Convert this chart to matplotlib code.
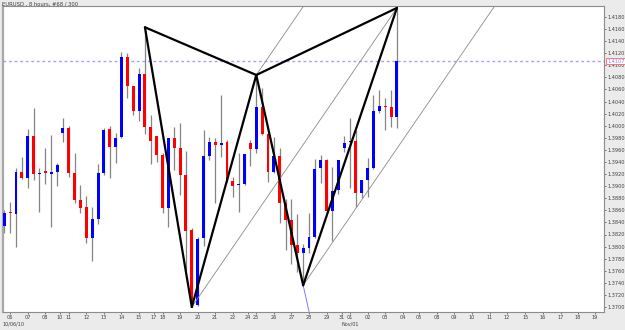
import matplotlib
matplotlib.use("Agg")
import matplotlib.pyplot as plt
import numpy as np

# ---------------- data (EURUSD, 8-hour bars) ----------------
opens = [1.3834, 1.3856, 1.3854, 1.3923, 1.3914, 1.3983, 1.3920, 1.3925, 1.3920, 1.3923,
         1.3988, 1.3996, 1.3922, 1.3877, 1.3865, 1.3814, 1.3846, 1.3922, 1.3995, 1.3965,
         1.3981, 1.4114, 1.4066, 1.4024, 1.4086, 1.3998, 1.3983, 1.3952, 1.3864, 1.3980,
         1.3963, 1.3919, 1.3827, 1.3703, 1.3814, 1.3950, 1.3973, 1.3968, 1.3973, 1.3909,
         1.3902, 1.3904, 1.3971, 1.3962, 1.4031, 1.3986, 1.3923, 1.3950, 1.3872, 1.3844,
         1.3803, 1.3789, 1.3798, 1.3816, 1.3930, 1.3943, 1.3859, 1.3894, 1.3963, 1.3973,
         1.3975, 1.3889, 1.3910, 1.3930, 1.4024, 1.4033, 1.4031, 1.4014]
highs = [1.3861, 1.3874, 1.3930, 1.3948, 1.3995, 1.4029, 1.3930, 1.3963, 1.3985, 1.3938,
         1.4013, 1.4000, 1.3955, 1.3902, 1.3884, 1.3865, 1.3937, 1.3996, 1.4000, 1.3988,
         1.4122, 1.4120, 1.4066, 1.4096, 1.4163, 1.4018, 1.3983, 1.3955, 1.3980, 1.3998,
         1.4005, 1.3958, 1.3830, 1.3816, 1.3993, 1.3981, 1.3980, 1.4051, 1.3976, 1.3915,
         1.3955, 1.3953, 1.3976, 1.4084, 1.4063, 1.3986, 1.3981, 1.3963, 1.3879, 1.3879,
         1.3854, 1.3804, 1.3856, 1.3945, 1.3952, 1.3945, 1.3932, 1.3943, 1.3983, 1.4013,
         1.3993, 1.3910, 1.3947, 1.4051, 1.4059, 1.4046, 1.4059, 1.4195]
lows = [1.3823, 1.3823, 1.3799, 1.3912, 1.3897, 1.3910, 1.3857, 1.3904, 1.3832, 1.3900,
        1.3973, 1.3915, 1.3872, 1.3856, 1.3806, 1.3776, 1.3837, 1.3918, 1.3914, 1.3938,
        1.3980, 1.4046, 1.4018, 1.4008, 1.3986, 1.3937, 1.3940, 1.3856, 1.3832, 1.3927,
        1.3885, 1.3761, 1.3700, 1.3701, 1.3801, 1.3943, 1.3872, 1.3948, 1.3907, 1.3882,
        1.3857, 1.3902, 1.3933, 1.3955, 1.3985, 1.3907, 1.3922, 1.3839, 1.3794, 1.3771,
        1.3758, 1.3736, 1.3789, 1.3815, 1.3905, 1.3858, 1.3809, 1.3887, 1.3957, 1.3897,
        1.3865, 1.3880, 1.3882, 1.3929, 1.4021, 1.3993, 1.3998, 1.3996]
closes = [1.3856, 1.3855, 1.3923, 1.3914, 1.3983, 1.3920, 1.3920, 1.3922, 1.3923, 1.3935,
          1.3996, 1.3922, 1.3877, 1.3864, 1.3814, 1.3846, 1.3922, 1.3993, 1.3965, 1.3980,
          1.4114, 1.4066, 1.4024, 1.4086, 1.3998, 1.3975, 1.3952, 1.3864, 1.3980, 1.3963,
          1.3919, 1.3826, 1.3705, 1.3813, 1.3950, 1.3973, 1.3968, 1.3971, 1.3909, 1.3900,
          1.3904, 1.3953, 1.3962, 1.4031, 1.3986, 1.3923, 1.3950, 1.3872, 1.3844, 1.3803,
          1.3789, 1.3798, 1.3816, 1.3928, 1.3943, 1.3859, 1.3892, 1.3943, 1.3971, 1.3975,
          1.3889, 1.3910, 1.3930, 1.4024, 1.4033, 1.4031, 1.4014, 1.4107]

# pattern pivot bars (X, A, B, C, D)
pivot_bars = [24, 32, 43, 51, 67]
pivot_kind = ['high', 'low', 'high', 'low', 'high']

tick_labels = ['06', '07', '08', '10', '11', '12', '13', '14', '15', '17', '18', '19', '20',
               '21', '22', '24', '25', '26', '27', '28', '29', '31', '01', '02', '03', '04',
               '05', '08', '09', '10', '11', '12', '15', '16', '17', '18', '19']
tick_bars = [1, 4, 7, 9.5, 11, 14, 17, 20, 23, 25.5, 27, 30, 33, 36, 39, 41.6, 43, 46, 49,
             52, 55, 57.6, 59, 62, 65, 68, 70.8, 73.8, 76.7, 79.8, 82.9, 85.8, 88.9, 91.9,
             95, 97.9, 100.8]
price_ticks = [round(1.3700 + 0.002 * k, 4) for k in range(25)]
title = "EURUSD , 8 hours, #68 / 300"

# ---------------- figure ----------------
W, H = 625, 330
fig = plt.figure(figsize=(W / 100, H / 100), dpi=100)
fig.patch.set_facecolor('#ebebeb')
ax = fig.add_axes([3 / W, 1 - 312 / H, (604 - 3) / W, (312 - 6) / H])
ax.set_facecolor('white')

n = len(opens)
x = np.arange(n)
o = np.array(opens); h = np.array(highs); l = np.array(lows); c = np.array(closes)

ax.vlines(x, l, h, color='#858585', lw=0.9, zorder=2)
up = c >= o
body_lo = np.minimum(o, c)
body_h = np.maximum(np.abs(c - o), 0.00016)
cols = np.where(up, '#0000ff', '#ff0000')
ax.bar(x, body_h, bottom=body_lo, width=0.5, color=cols, linewidth=0, zorder=3)

# pivots
px = np.array(pivot_bars, dtype=float)
py = np.array([h[b] if k == 'high' else l[b] for b, k in zip(pivot_bars, pivot_kind)])
Xp, Ap, Bp, Cp, Dp = [(px[i], py[i]) for i in range(5)]

def seg(p, q, **kw):
    ax.plot([p[0], q[0]], [p[1], q[1]], **kw)

blk = dict(color='black', lw=1.6, zorder=5, solid_capstyle='round', solid_joinstyle='round')
for p, q in [(Xp, Ap), (Ap, Bp), (Bp, Cp), (Cp, Dp), (Xp, Bp), (Bp, Dp)]:
    seg(p, q, **blk)

# channel: A-D and parallels through B and C
slope = (Dp[1] - Ap[1]) / (Dp[0] - Ap[0])
thin = dict(color='#8a8a8a', lw=0.6, zorder=4)
seg(Ap, Dp, **thin)
for P in (Bp, Cp):
    seg(P, (P[0] + 60, P[1] + 60 * slope), **thin)
# blue extension of B-C beyond C
bc = (Cp[1] - Bp[1]) / (Cp[0] - Bp[0])
seg(Cp, (Cp[0] + 3, Cp[1] + 3 * bc), color='#7b7bff', lw=0.7, zorder=4)

# current price line
last = closes[-1]
ax.axhline(last, color='#a0a0ff', lw=1.0, ls=(0, (2, 2)), zorder=1)

# axes styling
ax.set_xlim((3 - 4.3) / 5.86, (604 - 4.3) / 5.86)
ax.set_ylim(1.4180 - (312 - 17) * 0.048 / 290, 1.4180 + (17 - 6) * 0.048 / 290)
for s in ax.spines.values():
    s.set_color('#8c8c8c'); s.set_linewidth(0.8)
ax.spines['left'].set_color('#a8a8a8'); ax.spines['left'].set_linewidth(1.6)
ax.yaxis.tick_right()
ax.set_yticks(price_ticks)
ax.set_yticklabels([f"{v:.4f}" for v in price_ticks])
ax.tick_params(axis='y', length=1.5, width=0.6, color='#606060', pad=0.8,
               labelsize=3.6, labelcolor='#404040')
ax.set_xticks(tick_bars)
ax.set_xticklabels(tick_labels)
ax.tick_params(axis='x', length=1.5, width=0.6, color='#606060', pad=0.4,
               labelsize=3.6, labelcolor='#404040')

ax.annotate(f"{last:.4f}", xy=(1.0, last), xycoords=('axes fraction', 'data'),
            xytext=(2.3, 0), textcoords='offset points', va='center', ha='left',
            fontsize=3.6, color='#8080ff',
            bbox=dict(boxstyle='square,pad=0.15', fc='white', ec='#ff6060', lw=0.6))

fig.text(2 / W, 1 - 3.5 / H, title, fontsize=3.8, color='#404040', va='center', ha='left')
fig.text(2 / W, 1 - 324.5 / H, "10/06/10", fontsize=3.5, color='#404040', va='center', ha='left')
x01 = ax.transData.transform((tick_bars[tick_labels.index('01')], 0))[0] / W
fig.text(x01, 1 - 324.5 / H, "Nov/01", fontsize=3.5, color='#404040', va='center', ha='center')

fig.savefig("out.png", dpi=100, facecolor=fig.get_facecolor())
